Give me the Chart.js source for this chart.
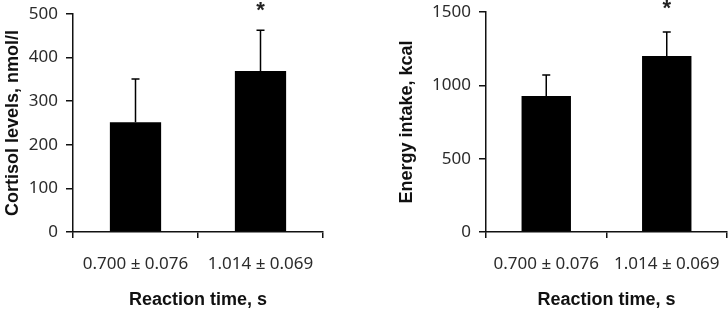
<!DOCTYPE html>
<html>
<head>
<meta charset="utf-8">
<script src="https://cdn.jsdelivr.net/npm/chart.js@4/dist/chart.umd.min.js"></script>
<style>
  body { margin: 0; background: #fff; }
  canvas { position: absolute; top: 0; }
  #cortisolChart { left: 0; }
  #energyChart { left: 364px; }
</style>
</head>
<body>
<canvas id="cortisolChart" width="364" height="309"></canvas>
<canvas id="energyChart" width="364" height="309"></canvas>
<script>
const reactionGroups = ['0.700 \u00b1 0.076', '1.014 \u00b1 0.069']
const cortisolMeans = [252, 369]
const cortisolSD = [99, 94]
const energyMeans = [927, 1200]
const energySD = [143, 163]
const significance = ['', '*']
const cortisolTicks = [0, 100, 200, 300, 400, 500]
const energyTicks = [0, 500, 1000, 1500]

// one-sided error bars plus significance marks
const errorBars = {
    id: 'errorBars',
    afterDatasetsDraw(chart) {
        const ctx = chart.ctx
        const ds = chart.data.datasets[0]
        const yScale = chart.scales.y
        chart.getDatasetMeta(0).data.forEach(function(bar, i) {
            const top = yScale.getPixelForValue(ds.data[i] + ds.errors[i])
            ctx.save()
            ctx.strokeStyle = '#000'
            ctx.lineWidth = 1.5
            ctx.beginPath()
            ctx.moveTo(bar.x, bar.y)
            ctx.lineTo(bar.x, top)
            ctx.moveTo(bar.x - 4, top)
            ctx.lineTo(bar.x + 4, top)
            ctx.stroke()
            if (ds.marks[i]) {
                ctx.fillStyle = '#222'
                ctx.font = 'bold 22px "Liberation Sans", Arial, sans-serif'
                ctx.textAlign = 'center'
                ctx.textBaseline = 'alphabetic'
                ctx.fillText(ds.marks[i], bar.x, chart.chartArea.top + 3)
            }
            ctx.restore()
        })
    }
}

function drawPanel(canvasId, means, sd, ticks, yTitle, opts) {
    const canvas = document.getElementById(canvasId)
    new Chart(canvas, {
        type: 'bar',
        data: {
            labels: reactionGroups,
            datasets: [{
                data: means,
                errors: sd,
                marks: significance,
                backgroundColor: '#000',
                borderWidth: 0,
                barPercentage: 0.41,
                categoryPercentage: 1
            }]
        },
        options: {
            responsive: false,
            animation: false,
            devicePixelRatio: 1,
            layout: { padding: { top: opts.top, right: opts.right, left: 0, bottom: 0 } },
            plugins: { legend: { display: false }, tooltip: { enabled: false } },
            scales: {
                x: {
                    offset: true,
                    afterFit: function(scale) {
                        scale.height = 309 - 232
                        scale.paddingLeft = 0
                        scale.paddingRight = 0
                    },
                    grid: { drawOnChartArea: false, tickLength: 6, color: '#111', lineWidth: 1.5, offset: true },
                    border: { color: '#111', width: 1.5 },
                    ticks: { color: '#2b2b2b', padding: 16, font: { family: '"Noto Sans"', size: 17 } },
                    title: {
                        display: true,
                        text: 'Reaction time, s',
                        color: '#111',
                        padding: { top: 0, bottom: 0 },
                        font: { family: '"Liberation Sans", Arial, sans-serif', size: 18, weight: 'bold', lineHeight: 1 }
                    }
                },
                y: {
                    min: 0,
                    max: ticks[ticks.length - 1],
                    afterFit: function(scale) {
                        scale.width = opts.axisX
                        scale.paddingTop = 0
                        scale.paddingBottom = 0
                    },
                    afterBuildTicks: function(scale) { scale.ticks = ticks.map(v => ({ value: v })) },
                    grid: { drawOnChartArea: false, tickLength: 7, color: '#111', lineWidth: 1.5 },
                    border: { color: '#111', width: 1.5 },
                    ticks: {
                        color: '#2b2b2b',
                        padding: 8,
                        font: { family: '"Noto Sans"', size: 17 },
                        callback: function(value) { return String(value) }
                    },
                    title: {
                        display: true,
                        text: yTitle,
                        color: '#111',
                        padding: { top: opts.titlePad, bottom: 0 },
                        font: { family: '"Liberation Sans", Arial, sans-serif', size: 18, weight: 'bold' }
                    }
                }
            }
        },
        plugins: [errorBars]
    })
}

drawPanel('cortisolChart', cortisolMeans, cortisolSD, cortisolTicks, 'Cortisol levels, nmol/l',
    { top: 14, right: 41, axisX: 73, titlePad: 2 })
drawPanel('energyChart', energyMeans, energySD, energyTicks, 'Energy intake, kcal',
    { top: 12, right: 1, axisX: 122, titlePad: 32 })
</script>
</body>
</html>
